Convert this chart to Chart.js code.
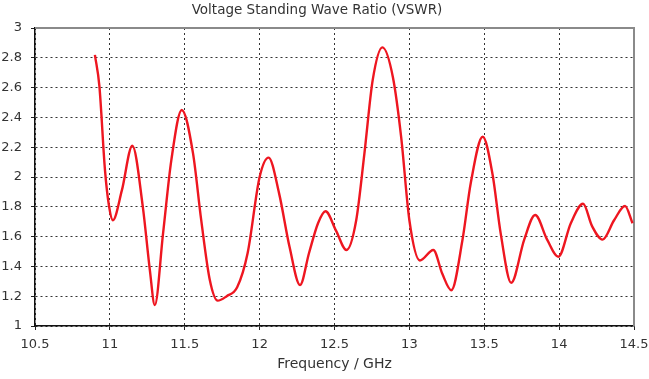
<!DOCTYPE html>
<html>
<head>
<meta charset="utf-8">
<script src="https://cdn.jsdelivr.net/npm/chart.js@4/dist/chart.umd.min.js"></script>
<style>
html,body{margin:0;padding:0;background:#fff;}
#wrap{width:649px;height:379px;}
</style>
</head>
<body>
<div id="wrap"><canvas id="c" width="649" height="379"></canvas></div>
<script>
const chartTitle = 'Voltage Standing Wave Ratio (VSWR)';
const xAxisTitle = 'Frequency / GHz';
const frequencies = [10.9, 10.93, 10.967, 10.995, 11.02, 11.08, 11.15, 11.22, 11.267, 11.30, 11.355, 11.41, 11.48, 11.555, 11.61, 11.667, 11.72, 11.78, 11.85, 11.92, 12.0, 12.06, 12.13, 12.2, 12.27, 12.33, 12.39, 12.44, 12.51, 12.58, 12.645, 12.70, 12.755, 12.82, 12.89, 12.945, 13.0, 13.07, 13.16, 13.22, 13.28, 13.355, 13.41, 13.49, 13.555, 13.61, 13.68, 13.767, 13.84, 13.92, 13.995, 14.078, 14.16, 14.22, 14.29, 14.367, 14.44, 14.49];
const vswr = [2.82, 2.61, 2.05, 1.80, 1.71, 1.91, 2.21, 1.80, 1.375, 1.14, 1.62, 2.11, 2.45, 2.16, 1.71, 1.31, 1.17, 1.20, 1.26, 1.49, 2.0, 2.13, 1.89, 1.53, 1.275, 1.49, 1.69, 1.77, 1.64, 1.51, 1.71, 2.16, 2.65, 2.87, 2.67, 2.27, 1.71, 1.44, 1.51, 1.35, 1.24, 1.58, 1.96, 2.27, 2.02, 1.62, 1.29, 1.58, 1.745, 1.58, 1.465, 1.69, 1.82, 1.67, 1.58, 1.71, 1.805, 1.69];
const xTickLabels = ['10.5','11','11.5','12','12.5','13','13.5','14','14.5'];
const yTickLabels = ['1','1.2','1.4','1.6','1.8','2','2.2','2.4','2.6','2.8','3'];

const points = frequencies.map((f, i) => ({x: f, y: vswr[i]}));
const xMin = parseFloat(xTickLabels[0]), xMax = parseFloat(xTickLabels[xTickLabels.length-1]);
const yMin = parseFloat(yTickLabels[0]), yMax = parseFloat(yTickLabels[yTickLabels.length-1]);

const frameEdges = {
  id: 'frameEdges',
  beforeDatasetsDraw(chart) {
    const {ctx, chartArea: a} = chart;
    ctx.save();
    ctx.strokeStyle = '#8a8a8a';
    ctx.lineWidth = 2;
    ctx.beginPath();
    ctx.moveTo(a.left, a.top);
    ctx.lineTo(a.right, a.top);
    ctx.lineTo(a.right, a.bottom);
    ctx.stroke();
    ctx.restore();
  }
};

const gridColor = (ctx, maxV) => {
  const v = ctx.tick ? ctx.tick.value : null;
  if (v === null) return '#333';
  if (Math.abs(v - maxV) < 1e-6) return 'rgba(0,0,0,0)';
  return '#333';
};

new Chart(document.getElementById('c'), {
  type: 'line',
  data: {
    datasets: [{
      data: points,
      borderColor: 'rgb(238,22,32)',
      borderWidth: 2.4,
      pointRadius: 0,
      fill: false,
      cubicInterpolationMode: 'monotone'
    }]
  },
  options: {
    responsive: false,
    animation: false,
    devicePixelRatio: 1,
    layout: {padding: {top: 0, right: 15, left: 0, bottom: 0}},
    plugins: {
      legend: {display: false},
      tooltip: {enabled: false},
      title: {
        display: true,
        text: chartTitle,
        color: '#333',
        font: {family: 'DejaVu Sans', size: 13.5, weight: 'normal'},
        padding: {top: 2, bottom: 9.8}
      }
    },
    scales: {
      x: {
        type: 'linear',
        min: xMin, max: xMax,
        afterFit(s) { s.height = 53; s.paddingLeft = 0; s.paddingRight = 0; },
        ticks: {
          stepSize: 0.5,
          color: '#333',
          font: {family: 'DejaVu Sans', size: 13},
          padding: 7,
          maxRotation: 0,
          callback: (v) => { const i = Math.round((v - xMin) / 0.5); return xTickLabels[i] ?? ''; }
        },
        grid: {
          color: (c) => gridColor(c, xMax),
          lineWidth: 1,
          tickLength: 4,
          tickColor: '#222',
          tickWidth: 1
        },
        border: {display: true, color: '#111', width: 1.5, dash: [2, 3]},
        title: {
          display: true,
          text: xAxisTitle,
          color: '#333',
          font: {family: 'DejaVu Sans', size: 14},
          padding: {top: 0, bottom: 6}
        }
      },
      y: {
        type: 'linear',
        min: yMin, max: yMax,
        afterFit(s) { s.width = 35; s.paddingTop = 0; s.paddingBottom = 0; },
        ticks: {
          stepSize: 0.2,
          color: '#333',
          font: {family: 'DejaVu Sans', size: 13},
          padding: 9,
          callback: (v) => { const i = Math.round((v - yMin) / 0.2); return yTickLabels[i] ?? ''; }
        },
        grid: {
          color: (c) => gridColor(c, yMax),
          lineWidth: 1,
          tickLength: 4,
          tickColor: '#222',
          tickWidth: 1
        },
        border: {display: true, color: '#111', width: 1.5, dash: [2, 3]}
      }
    }
  },
  plugins: [frameEdges]
});
</script>
</body>
</html>
